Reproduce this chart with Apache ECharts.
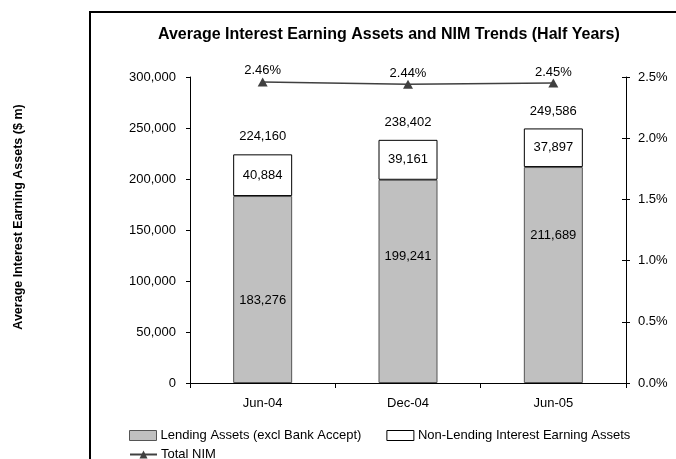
<!DOCTYPE html>
<html>
<head>
<meta charset="utf-8">
<script src="https://cdn.jsdelivr.net/npm/echarts@6/dist/echarts.min.js"></script>
<style>
  html, body { margin: 0; padding: 0; background: #fff; }
  #chart { width: 676px; height: 459px; }
</style>
</head>
<body>
<div id="chart"></div>
<script>
// half-year periods
const periods = ['Jun-04', 'Dec-04', 'Jun-05'];
// $ m
const lending = [183276, 199241, 211689];
const nonLending = [40884, 39161, 37897];
// %
const totalNim = [2.46, 2.44, 2.45];

// label nudges for the lending values (they sit off-centre in the original)
const lendingLabelShift = [11, -25, -40];

const FONT = '"Liberation Sans", Arial, sans-serif';
const fmt = v => Number(v).toLocaleString('en-US');

let myChart = echarts.init(document.getElementById('chart'));

let option = {
  animation: false,
  textStyle: { fontFamily: FONT, color: '#000' },
  title: {
    text: 'Average Interest Earning Assets and NIM Trends (Half Years)',
    left: 158,
    top: 27,
    padding: 0,
    textStyle: { fontFamily: FONT, fontSize: 16, fontWeight: 'bold', color: '#000' }
  },
  graphic: [
    {
      type: 'rect',
      shape: { x: 90, y: 12, width: 700, height: 600 },
      style: { fill: 'none', stroke: '#000', lineWidth: 2 },
      silent: true
    },
    {
      type: 'text',
      x: 19,
      y: 217,
      rotation: Math.PI / 2,
      style: {
        text: 'Average Interest Earning Assets ($ m)',
        fontFamily: FONT,
        fontSize: 12.5,
        fontWeight: 'bold',
        fill: '#000',
        align: 'center',
        verticalAlign: 'middle'
      }
    }
  ],
  legend: [
    {
      data: ['Lending Assets (excl Bank Accept)', 'Non-Lending Interest Earning Assets'],
      left: 129,
      top: 429,
      padding: 0,
      icon: 'rect',
      itemWidth: 27,
      itemHeight: 10,
      itemGap: 25,
      itemStyle: { borderWidth: 1 },
      textStyle: { fontFamily: FONT, fontSize: 13, color: '#000', padding: [0, 0, 0, -1] }
    },
    {
      data: ['Total NIM'],
      left: 129,
      top: 448,
      padding: 0,
      itemWidth: 27,
      itemHeight: 10,
      textStyle: { fontFamily: FONT, fontSize: 13, color: '#000', padding: [0, 0, 0, -1] }
    }
  ],
  grid: { left: 190, right: 50, top: 77, bottom: 76 },
  xAxis: {
    type: 'category',
    data: periods,
    axisLine: { lineStyle: { color: '#000', width: 1 } },
    axisTick: { show: true, length: 5, lineStyle: { color: '#000' } },
    axisLabel: { fontFamily: FONT, fontSize: 13, color: '#000', margin: 14 }
  },
  yAxis: [
    {
      type: 'value',
      min: 0,
      max: 300000,
      interval: 50000,
      position: 'left',
      splitLine: { show: false },
      axisLine: { show: true, lineStyle: { color: '#000', width: 1 } },
      axisTick: { show: true, length: 4, lineStyle: { color: '#000' } },
      axisLabel: { fontFamily: FONT, fontSize: 13, color: '#000', margin: 14, formatter: v => fmt(v) }
    },
    {
      type: 'value',
      min: 0,
      max: 2.5,
      interval: 0.5,
      position: 'right',
      splitLine: { show: false },
      axisLine: { show: true, lineStyle: { color: '#000', width: 1 } },
      axisTick: { show: true, length: 4, lineStyle: { color: '#000' } },
      axisLabel: { fontFamily: FONT, fontSize: 13, color: '#000', margin: 12, formatter: v => v.toFixed(1) + '%' }
    },
    {
      // inner half of the crossing ticks on the right axis
      type: 'value',
      min: 0,
      max: 2.5,
      interval: 0.5,
      position: 'right',
      splitLine: { show: false },
      axisLine: { show: false },
      axisTick: { show: true, inside: true, length: 4, lineStyle: { color: '#000' } },
      axisLabel: { show: false }
    }
  ],
  series: [
    {
      name: 'Lending Assets (excl Bank Accept)',
      type: 'bar',
      stack: 'assets',
      barWidth: 59,
      data: lending.map((v, i) => ({
        value: v,
        label: { offset: [0, lendingLabelShift[i]] }
      })),
      itemStyle: { color: '#c0c0c0', borderColor: '#555', borderWidth: 1 },
      label: {
        show: true,
        position: 'inside',
        fontFamily: FONT,
        fontSize: 13,
        color: '#000',
        formatter: p => fmt(p.value)
      }
    },
    {
      name: 'Non-Lending Interest Earning Assets',
      type: 'bar',
      stack: 'assets',
      barWidth: 59,
      data: nonLending,
      itemStyle: { color: '#fff', borderColor: '#000', borderWidth: 1 },
      label: {
        show: true,
        position: 'inside',
        fontFamily: FONT,
        fontSize: 13,
        color: '#000',
        formatter: p => fmt(p.value)
      }
    },
    {
      name: 'Total',
      type: 'bar',
      stack: 'assets',
      barWidth: 59,
      data: periods.map(() => 0),
      itemStyle: { color: 'rgba(0,0,0,0)', borderWidth: 0 },
      label: {
        show: true,
        position: 'top',
        distance: 11,
        fontFamily: FONT,
        fontSize: 13,
        color: '#000',
        formatter: p => fmt(lending[p.dataIndex] + nonLending[p.dataIndex])
      }
    },
    {
      name: 'Total NIM',
      type: 'line',
      yAxisIndex: 1,
      data: totalNim,
      symbol: 'triangle',
      symbolSize: [10, 9],
      lineStyle: { color: '#404040', width: 1.5 },
      itemStyle: { color: '#404040' },
      label: {
        show: true,
        position: 'top',
        distance: 0,
        fontFamily: FONT,
        fontSize: 13,
        color: '#000',
        formatter: p => p.value.toFixed(2) + '%'
      }
    }
  ]
};

option && myChart.setOption(option);
</script>
</body>
</html>
